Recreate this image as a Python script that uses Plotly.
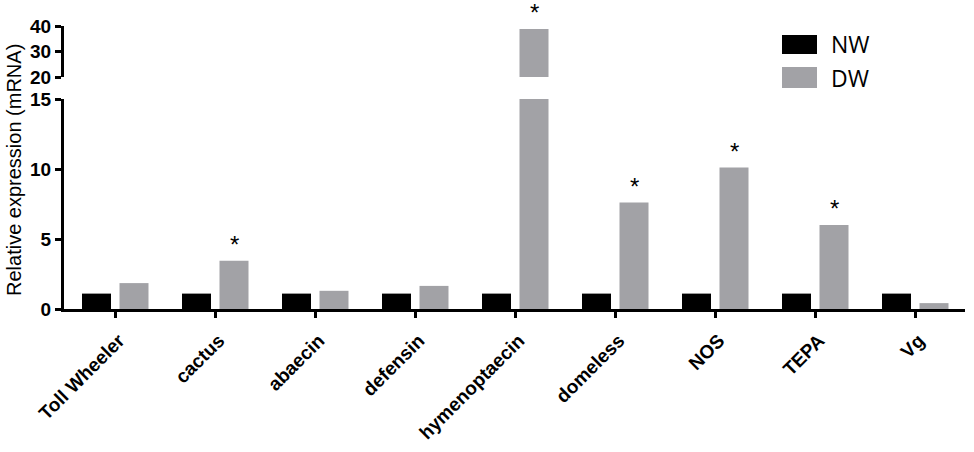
import plotly.graph_objects as go

categories = ["Toll Wheeler", "cactus", "abaecin", "defensin", "hymenoptaecin",
              "domeless", "NOS", "TEPA", "Vg"]
nw_values = [1.1, 1.1, 1.1, 1.1, 1.1, 1.1, 1.1, 1.1, 1.1]
dw_values = [1.85, 3.45, 1.3, 1.65, 38.8, 7.6, 10.1, 6.0, 0.42]
significant = [False, True, False, False, True, True, True, True, False]
lower_ticks = [0, 5, 10, 15]
upper_ticks = [20, 30, 40]

NW_COLOR = "#000000"
DW_COLOR = "#a2a2a6"
FONT = "Liberation Sans"

W, H = 974, 452
ML, MR, MT, MB = 64, 9, 20, 143
PW, PH = W - ML - MR, H - MT - MB


def px_x(p):
    return (p - ML) / PW


def px_y(p):
    return (H - MB - p) / PH


fig = go.Figure()
for axis in ["y", "y2"]:
    fig.add_trace(go.Bar(x=categories, y=nw_values, marker_color=NW_COLOR,
                         width=0.29, offset=-0.33, yaxis=axis, showlegend=False,
                         marker_line_width=0, name="NW"))
    fig.add_trace(go.Bar(x=categories, y=dw_values, marker_color=DW_COLOR,
                         width=0.29, offset=0.045, yaxis=axis, showlegend=False,
                         marker_line_width=0, name="DW"))

annotations = []
for i, (v, s) in enumerate(zip(dw_values, significant)):
    if not s:
        continue
    annotations.append(dict(x=i + 0.19, y=v, xref="x", yref="y2" if v > 15 else "y",
                            text="*", showarrow=False, yanchor="bottom", yshift=1,
                            font=dict(family=FONT, size=24, color="black")))

annotations.append(dict(x=px_x(14), y=px_y(170), xref="paper", yref="paper",
                        xanchor="center", yanchor="middle",
                        text="Relative expression (mRNA)", textangle=-90, showarrow=False,
                        font=dict(family=FONT, size=20, color="black")))

shapes = []
legend_items = [("NW", NW_COLOR, 35, 54), ("DW", DW_COLOR, 67, 88)]
for name, col, y0, y1 in legend_items:
    shapes.append(dict(type="rect", xref="paper", yref="paper",
                       x0=px_x(782), x1=px_x(817), y0=px_y(y1), y1=px_y(y0),
                       fillcolor=col, line_width=0))
    annotations.append(dict(x=px_x(829), y=px_y((y0 + y1) / 2), xref="paper", yref="paper",
                            text=name, showarrow=False, xanchor="left", yanchor="middle",
                            font=dict(family="Open Sans", size=23, color="black")))

xtickfont = dict(family=FONT, size=19, color="black", weight="bold")
ytickfont = dict(family=FONT, size=19, color="black", weight="bold")

fig.update_layout(
    width=W, height=H,
    margin=dict(l=ML, r=MR, t=MT, b=MB, autoexpand=False),
    plot_bgcolor="white", paper_bgcolor="white",
    barmode="overlay",
    showlegend=False,
    annotations=annotations,
    shapes=shapes,
    xaxis=dict(type="category", categoryorder="array", categoryarray=categories,
               range=[-0.51, 8.5], showline=True, linecolor="black", linewidth=3,
               ticks="outside", ticklen=6, tickwidth=3, tickcolor="black",
               tickangle=-45, tickfont=xtickfont, showgrid=False, zeroline=False,
               ticklabelstandoff=4, ticklabelshift=4,
               anchor="y", automargin=False),
    yaxis=dict(domain=[0, px_y(99)], range=[0, 15], tickvals=lower_ticks,
               showline=True, linecolor="black", linewidth=3,
               ticks="outside", ticklen=6, tickwidth=3, tickcolor="black",
               tickfont=ytickfont, showgrid=False, zeroline=False, anchor="x",
               automargin=False),
    yaxis2=dict(domain=[px_y(77), px_y(26)], range=[20, 40], tickvals=upper_ticks,
                showline=True, linecolor="black", linewidth=3,
                ticks="outside", ticklen=6, tickwidth=3, tickcolor="black",
                tickfont=ytickfont, showgrid=False, zeroline=False, anchor="x",
                automargin=False),
)

fig.write_html("out.html", config={"displayModeBar": False},
               post_script="document.body.style.margin='0';")
